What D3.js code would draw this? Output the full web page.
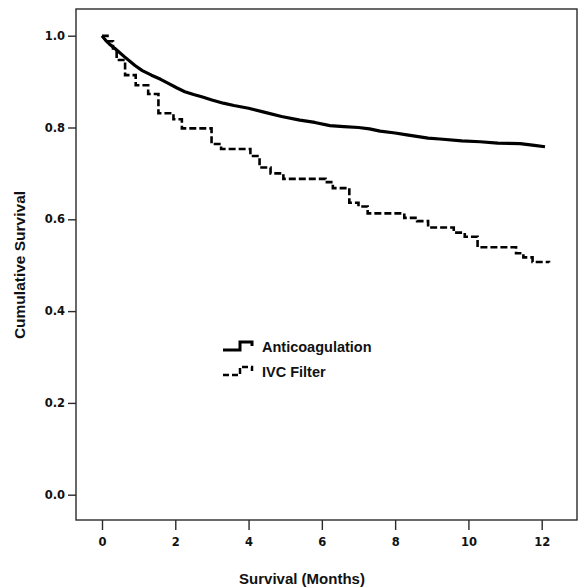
<!DOCTYPE html>
<html>
<head>
<meta charset="utf-8">
<script src="https://cdn.jsdelivr.net/npm/d3@7"></script>
<style>
  html, body { margin: 0; padding: 0; background: #fff; }
  svg { display: block; }
</style>
</head>
<body>
<svg id="chart" width="578" height="588"></svg>
<script>
// ---- data ----
const seriesNames = ["Anticoagulation", "IVC Filter"];

// Anticoagulation: Kaplan-Meier estimate (time in months, survival)
const anticoagTime = [0, 0.1, 0.2, 0.4, 0.6, 0.9, 1.1, 1.35, 1.6, 1.81, 2.05, 2.26, 2.5, 2.72, 3.0, 3.31, 3.6, 4.0, 4.45, 4.9, 5.4, 5.81, 6.22, 6.6, 7.0, 7.3, 7.59, 8.0, 8.32, 8.9, 9.22, 9.82, 10.32, 10.8, 11.41, 11.8, 12.09];
const anticoagSurv = [1.0, 0.99, 0.982, 0.969, 0.955, 0.935, 0.924, 0.914, 0.905, 0.896, 0.886, 0.878, 0.872, 0.867, 0.860, 0.853, 0.848, 0.842, 0.833, 0.824, 0.816, 0.811, 0.804, 0.802, 0.800, 0.797, 0.792, 0.788, 0.784, 0.777, 0.775, 0.771, 0.769, 0.766, 0.765, 0.761, 0.758];

// IVC Filter: Kaplan-Meier estimate (step times, survival after step)
const ivcTime = [0, 0.15, 0.3, 0.4, 0.63, 0.92, 1.26, 1.54, 1.95, 2.18, 2.99, 3.25, 4.05, 4.3, 4.6, 4.95, 6.1, 6.3, 6.75, 7.0, 7.25, 8.25, 8.6, 8.9, 9.6, 9.9, 10.25, 11.3, 11.5, 11.75, 12.2];
const ivcSurv = [1.0, 0.988, 0.972, 0.947, 0.914, 0.892, 0.873, 0.831, 0.818, 0.798, 0.764, 0.753, 0.738, 0.713, 0.700, 0.688, 0.681, 0.668, 0.636, 0.628, 0.613, 0.603, 0.596, 0.582, 0.571, 0.562, 0.539, 0.526, 0.517, 0.507, 0.506];

const xTicks = [0, 2, 4, 6, 8, 10, 12];
const yTicks = [0.0, 0.2, 0.4, 0.6, 0.8, 1.0];
const xTitle = "Survival (Months)";
const yTitle = "Cumulative Survival";

// ---- layout ----
const svg = d3.select("#chart");
const frame = { left: 76, top: 9, right: 577, bottom: 520 };

const x = d3.scaleLinear().domain([0, 12]).range([102, 541.7]);
const y = d3.scaleLinear().domain([0, 1]).range([494.7, 35.7]);

// frame box
svg.append("rect")
  .attr("x", frame.left).attr("y", frame.top)
  .attr("width", frame.right - frame.left)
  .attr("height", frame.bottom - frame.top)
  .attr("fill", "none").attr("stroke", "#2a2a2a").attr("stroke-width", 1.4);

const tickFont = "'DejaVu Sans', Verdana, sans-serif";

// x axis
const xAxis = svg.append("g")
  .attr("transform", `translate(0,${frame.bottom})`)
  .call(d3.axisBottom(x).tickValues(xTicks).tickFormat(d3.format("d")).tickSize(10).tickPadding(8));
xAxis.select(".domain").remove();
xAxis.selectAll(".tick line").attr("stroke", "#2a2a2a").attr("stroke-width", 1.4);
xAxis.selectAll(".tick text")
  .attr("font-family", tickFont).attr("font-weight", "bold")
  .attr("font-size", 11.5).attr("fill", "#111");

// y axis
const yAxis = svg.append("g")
  .attr("transform", `translate(${frame.left},0)`)
  .call(d3.axisLeft(y).tickValues(yTicks).tickFormat(d3.format(".1f")).tickSize(8).tickPadding(3));
yAxis.select(".domain").remove();
yAxis.selectAll(".tick line").attr("stroke", "#2a2a2a").attr("stroke-width", 1.4);
yAxis.selectAll(".tick text")
  .attr("font-family", tickFont).attr("font-weight", "bold")
  .attr("font-size", 11.5).attr("fill", "#111");

// axis titles
svg.append("text")
  .attr("x", 302).attr("y", 584)
  .attr("text-anchor", "middle")
  .attr("font-family", "'Liberation Sans', Arial, sans-serif")
  .attr("font-weight", "bold").attr("font-size", 15).attr("fill", "#111")
  .text(xTitle);

svg.append("text")
  .attr("transform", "translate(25,265) rotate(-90)")
  .attr("text-anchor", "middle")
  .attr("font-family", "'Liberation Sans', Arial, sans-serif")
  .attr("font-weight", "bold").attr("font-size", 15.5).attr("fill", "#111")
  .text(yTitle);

// curves
const line = d3.line()
  .x(d => x(d[0]))
  .y(d => y(d[1]))
  .curve(d3.curveStepAfter);

const anticoagData = d3.zip(anticoagTime, anticoagSurv);
const ivcData = d3.zip(ivcTime, ivcSurv);

svg.append("path")
  .datum(ivcData)
  .attr("d", line)
  .attr("fill", "none").attr("stroke", "#000")
  .attr("stroke-width", 2.6)
  .attr("stroke-dasharray", "7,3");

svg.append("path")
  .datum(anticoagData)
  .attr("d", d3.line().x(d => x(d[0])).y(d => y(d[1])).curve(d3.curveLinear))
  .attr("fill", "none").attr("stroke", "#000")
  .attr("stroke-width", 3.2)
  .attr("stroke-linejoin", "round");

// legend
const legendX = 223, legendY0 = 347, legendDy = 25;
const legendStyles = [
  { dash: null, width: 3 },
  { dash: "6,3", width: 2.5 }
];
seriesNames.forEach((name, i) => {
  const cy = legendY0 + i * legendDy;
  const g = svg.append("g");
  const sym = d3.path();
  sym.moveTo(legendX, cy + 3);
  sym.lineTo(legendX + 17, cy + 3);
  sym.lineTo(legendX + 17, cy - 5);
  sym.lineTo(legendX + 29, cy - 5);
  sym.lineTo(legendX + 29, cy - 1);
  g.append("path")
    .attr("d", sym.toString())
    .attr("fill", "none").attr("stroke", "#000")
    .attr("stroke-width", legendStyles[i].width)
    .attr("stroke-dasharray", legendStyles[i].dash);
  g.append("text")
    .attr("x", legendX + 39).attr("y", cy + 5)
    .attr("font-family", "'Liberation Sans', Arial, sans-serif")
    .attr("font-weight", "bold").attr("font-size", 14.5).attr("fill", "#111")
    .text(name);
});
</script>
</body>
</html>
